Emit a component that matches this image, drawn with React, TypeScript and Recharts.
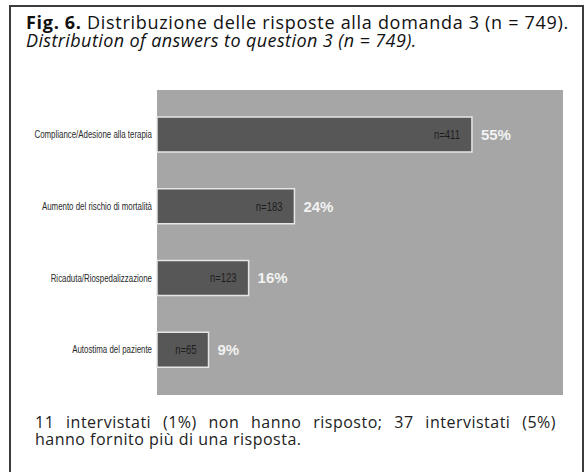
import React from "react";
import { BarChart, Bar, XAxis, YAxis, CartesianGrid, LabelList } from "recharts";

// answers to question 3 (n = 749)
const categories = [
  "Compliance/Adesione alla terapia",
  "Aumento del rischio di mortalità",
  "Ricaduta/Riospedalizzazione",
  "Autostima del paziente",
];
const percents = [55, 24, 16, 9];
const counts = [411, 183, 123, 65];

const chartData = categories.map((name, i) => ({
  name,
  pct: percents[i],
  n: counts[i],
}));

const LABEL_FONT = "'Liberation Sans', Arial, sans-serif";
const TEXT_FONT = "'Open Sans', Lato, sans-serif";

// the source uses a narrow face; squeeze a normal one horizontally
function NarrowText({ x, y, anchor, size, fill, children }: {
  x: number; y: number; anchor: "start" | "end"; size: number; fill: string; children: React.ReactNode;
}) {
  return (
    <text
      transform={`translate(${x},${y}) scale(0.79,1)`}
      textAnchor={anchor}
      fill={fill}
      fontSize={size}
      fontFamily={LABEL_FONT}
      dominantBaseline="central"
    >
      {children}
    </text>
  );
}

function CategoryTick({ x, y, payload }: { x?: number; y?: number; payload?: { value: string } }) {
  return (
    <NarrowText x={(x ?? 0) + 3} y={y ?? 0} anchor="end" size={10} fill="#2a2a2a">
      {payload?.value}
    </NarrowText>
  );
}

function CountLabel(props: { x?: number; y?: number; width?: number; height?: number; value?: number }) {
  const { x = 0, y = 0, width = 0, height = 0, value } = props;
  return (
    <NarrowText x={x + width - 12} y={y + height / 2} anchor="end" size={12} fill="#1e1e1e">
      {`n=${value}`}
    </NarrowText>
  );
}

export default function App() {
  return (
    <div
      style={{
        position: "absolute",
        left: 0,
        top: 0,
        width: 586,
        height: 472,
        overflow: "hidden",
        background: "#fff",
      }}
    >
      {/* frame */}
      <div
        style={{
          position: "absolute",
          left: 9,
          top: 5,
          width: 571,
          height: 490,
          border: "2px solid #3c3c3c",
        }}
      />

      <div
        style={{
          position: "absolute",
          left: 26,
          top: 13,
          fontFamily: TEXT_FONT,
          fontSize: 18,
          lineHeight: "18px",
          color: "#111",
          whiteSpace: "nowrap",
        }}
      >
        <div style={{ letterSpacing: 0.7 }}>
          <b>Fig. 6.</b> Distribuzione delle risposte alla domanda 3 (n = 749).
        </div>
        <div style={{ fontStyle: "italic", letterSpacing: 0.4 }}>
          Distribution of answers to question 3 (n = 749).
        </div>
      </div>

      <div style={{ position: "absolute", left: 0, top: 0 }}>
        <BarChart
          width={586}
          height={472}
          data={chartData}
          layout="vertical"
          margin={{ top: 90, right: 23, bottom: 77, left: 0 }}
        >
          <CartesianGrid fill="#a6a6a6" stroke="none" horizontal={false} vertical={false} />
          <XAxis type="number" domain={[0, 70.9]} hide />
          <YAxis
            type="category"
            dataKey="name"
            width={157}
            axisLine={false}
            tickLine={false}
            padding={{ top: 9, bottom: 9 }}
            tick={<CategoryTick />}
            interval={0}
          />
          <Bar
            dataKey="pct"
            fill="#575757"
            stroke="#e6e6e6"
            strokeWidth={1.5}
            barSize={35}
            isAnimationActive={false}
          >
            <LabelList dataKey="n" content={<CountLabel />} />
            <LabelList
              dataKey="pct"
              position="right"
              offset={9}
              formatter={(v: number) => `${v}%`}
              fill="#f2f2f2"
              fontSize={15}
              fontWeight="bold"
              fontFamily={LABEL_FONT}
            />
          </Bar>
        </BarChart>
      </div>

      <div
        style={{
          position: "absolute",
          left: 35,
          top: 414,
          width: 521,
          fontFamily: TEXT_FONT,
          fontSize: 16,
          lineHeight: "17px",
          letterSpacing: 0.5,
          color: "#222",
          whiteSpace: "nowrap",
        }}
      >
        <div style={{ textAlign: "justify", textAlignLast: "justify", whiteSpace: "normal" }}>
          11 intervistati (1%) non hanno risposto; 37 intervistati (5%)
        </div>
        <div>hanno fornito più di una risposta.</div>
      </div>
    </div>
  );
}
